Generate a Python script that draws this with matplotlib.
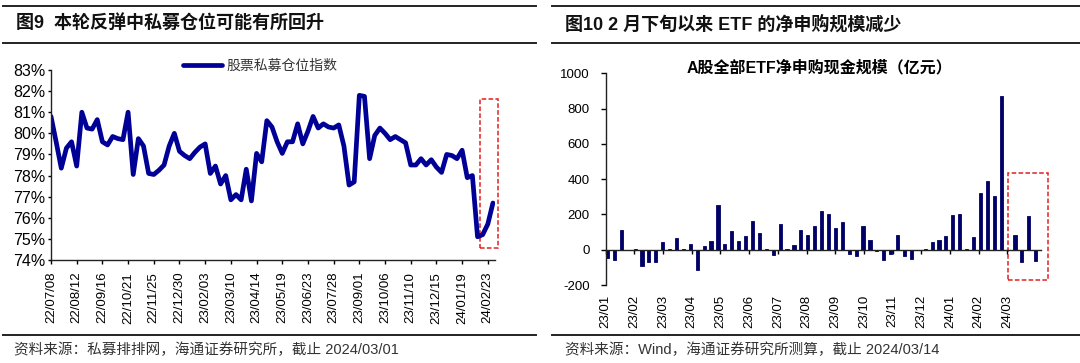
import numpy as np
import pandas as pd
import matplotlib
matplotlib.use('Agg')
import matplotlib.pyplot as plt
from matplotlib.lines import Line2D
from matplotlib.patches import Rectangle

plt.rcParams['font.family'] = ['Liberation Sans', 'Noto Sans CJK SC']
plt.rcParams['axes.unicode_minus'] = False

# left chart: weekly private fund position index (%)
position_start = '2022-07-08'
position_values = [
    80.8, 79.6, 78.35, 79.3, 79.6, 78.45, 81.0, 80.25, 80.2, 80.65,
    79.6, 79.45, 79.85, 79.75, 79.7, 81.0, 78.05, 79.75, 79.4, 78.1,
    78.05, 78.25, 78.5, 79.4, 80.0, 79.15, 78.95, 78.8, 79.1, 79.35,
    79.5, 78.1, 78.45, 77.6, 78.0, 76.85, 77.1, 76.85, 78.3, 76.8,
    79.05, 78.65, 80.6, 80.3, 79.6, 79.05, 79.6, 79.6, 80.45, 79.5,
    80.1, 80.8, 80.25, 80.45, 80.3, 80.25, 80.4, 79.4, 77.55, 77.7,
    81.8, 81.75, 78.8, 79.9, 80.25, 80.0, 79.7, 79.85, 79.7, 79.55,
    78.5, 78.5, 78.8, 78.5, 78.75, 78.4, 78.15, 79.0, 78.95, 78.8,
    79.2, 77.9, 78.0, 75.1, 75.2, 75.7, 76.7,
]
position_label = '股票私募仓位指数'

# right chart: weekly net ETF subscription (100m yuan)
etf_values = [
    -47, -60, 113, 0, 4, -94, -72, -70, 42, 5,
    66, 5, 34, -113, 19, 47, 251, 34, 108, 47,
    75, 164, 94, 5, -28, 145, 5, 28, 110, 85,
    136, 219, 200, 125, 158, -23, -34, 136, 53, -5,
    -60, -23, 85, -34, -53, -3, 3, 43, 53, 75,
    194, 202, 3, 72, 321, 387, 302, 874, 0, 85,
    -68, 192, -64,
]
etf_months = ['23/01', '23/02', '23/03', '23/04', '23/05', '23/06', '23/07', '23/08',
              '23/09', '23/10', '23/11', '23/12', '24/01', '24/02', '24/03']

title_left = '图9  本轮反弹中私募仓位可能有所回升'
title_right = '图10 2 月下旬以来 ETF 的净申购规模减少'
chart_title_right = 'A股全部ETF净申购现金规模（亿元）'
source_left = '资料来源：私募排排网，海通证券研究所，截止 2024/03/01'
source_right = '资料来源：Wind，海通证券研究所测算，截止 2024/03/14'

W, H = 1080, 363
fig = plt.figure(figsize=(W / 100, H / 100), dpi=100)


def fx(px):
    return px / W


def fy(py):
    return 1 - py / H


# header / footer rules
for x0, x1 in [(3, 536), (552, 1080)]:
    for yy in (6, 43, 335):
        fig.add_artist(Line2D([fx(x0), fx(x1)], [fy(yy), fy(yy)], color='#222222', lw=1.4))

fig.text(fx(16), fy(24), title_left, fontsize=13, fontweight='bold', va='center', color='#111111')
fig.text(fx(565), fy(24), title_right, fontsize=13, fontweight='bold', va='center', color='#111111')
fig.text(fx(14), fy(350), source_left, fontsize=10.5, va='center', color='#333333')
fig.text(fx(565), fy(350), source_right, fontsize=10.5, va='center', color='#333333')

# ---- left: line chart
ax1 = fig.add_axes([fx(51), fy(260), fx(444), (260 - 70) / H])
dates = pd.date_range(position_start, periods=len(position_values), freq='7D')
xs = np.arange(len(position_values))
ax1.plot(xs, position_values, color='#000096', lw=3.4, solid_joinstyle='round',
         solid_capstyle='round', label=position_label)
ax1.set_xlim(0, 86.4)
ax1.set_ylim(74, 83)
ax1.set_yticks(np.arange(74, 84, 1))
ax1.set_yticklabels([f'{v}%' for v in range(74, 84)])
tick_idx = list(range(0, len(position_values), 5))
ax1.set_xticks(tick_idx)
ax1.set_xticklabels([dates[i].strftime('%y/%m/%d') for i in tick_idx], rotation=90)
for s in ('top', 'right'):
    ax1.spines[s].set_visible(False)
for s in ('left', 'bottom'):
    ax1.spines[s].set_color('#222222')
    ax1.spines[s].set_linewidth(1.0)
ax1.tick_params(axis='y', direction='out', length=2.5, width=1, pad=1.5, labelsize=11.5)
ax1.tick_params(axis='x', direction='out', length=3, width=1, pad=5.5, labelsize=9.5)
ax1.add_patch(Rectangle((83.5, 74.55), 3.5, 7.1, fill=False, ec='#E02020', lw=1.1,
                        ls=(0, (3, 1.5)), clip_on=False))
leg = ax1.legend(loc='center left', bbox_to_anchor=(fx(183), fy(66)), bbox_transform=fig.transFigure,
                 frameon=False, fontsize=10, handlelength=2.8, handletextpad=0.35, borderpad=0,
                 borderaxespad=0)
for t in leg.get_texts():
    t.set_color('#333333')

# ---- right: bar chart
ax2 = fig.add_axes([fx(605.7), fy(285), fx(1041 - 605.7), (285 - 73.3) / H])
ax2.spines['bottom'].set_position(('data', 0))
bx = np.arange(len(etf_values))
ax2.bar(bx, etf_values, width=0.45, color='#000066', edgecolor='#000066', linewidth=0.6)
ax2.set_xlim(-0.14, 62.76)
ax2.set_ylim(-200, 1000)
ax2.set_yticks(range(-200, 1001, 200))
ax2.set_xticks(np.linspace(-0.25, 57.9, len(etf_months)))
ax2.set_xticklabels(etf_months)
for s in ('top', 'right'):
    ax2.spines[s].set_visible(False)
for s in ('left', 'bottom'):
    ax2.spines[s].set_color('#222222')
    ax2.spines[s].set_linewidth(1.0)
ax2.tick_params(axis='y', direction='out', length=3.5, width=1, pad=8, labelsize=9.5)
ax2.tick_params(axis='x', direction='out', length=3, width=1, pad=29.5, labelsize=9.5,
                labelrotation=90)
ax2.text((819 - 605.7) / (1041 - 605.7), (285 - 68) / (285 - 73.3), chart_title_right,
         transform=ax2.transAxes, ha='center', va='center', fontsize=11.5, fontweight='bold')
ax2.add_patch(Rectangle((58.0, -170), 5.8, 607, fill=False, ec='#E02020', lw=1.1,
                        ls=(0, (3, 1.5)), clip_on=False))

fig.savefig('out.png', dpi=100)
